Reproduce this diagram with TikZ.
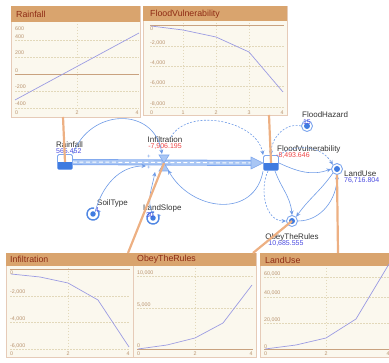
\documentclass[tikz,border=0pt]{standalone}
\usepackage{fontspec}
\setmainfont{Liberation Sans}
\usetikzlibrary{arrows.meta}

\definecolor{panelrim}{HTML}{E6CBB8}
\definecolor{panelbg}{HTML}{FBF8EE}
\definecolor{panelhd}{HTML}{D9A46E}
\definecolor{titlered}{HTML}{8E2B14}
\definecolor{tickbrown}{HTML}{B8926E}
\definecolor{gridcol}{HTML}{E2D8BA}
\definecolor{zerocol}{HTML}{C9A27F}
\definecolor{plotcol}{HTML}{9C9CE3}
\definecolor{tancol}{HTML}{EDB083}
\definecolor{linkblue}{HTML}{6F9BE6}
\definecolor{stockrim}{HTML}{7EA7EE}
\definecolor{stockfill}{HTML}{3F7BE0}
\definecolor{pipefill}{HTML}{A9C6F4}
\definecolor{valred}{HTML}{EE4444}
\definecolor{valblue}{HTML}{4B4BE0}

\tikzset{
  panel/.style={draw=panelrim, fill=panelbg, line width=0.8pt},
  panelhead/.style={fill=panelhd},
  charttitle/.style={anchor=west, inner sep=0pt, text=titlered, font=\fontsize{8.8}{9}\selectfont},
  tick/.style={anchor=west, inner sep=0pt, text=tickbrown, font=\fontsize{5.3}{5.5}\selectfont},
  gridline/.style={draw=gridcol, line width=0.4pt, dash pattern=on 1.5pt off 1.5pt},
  zeroline/.style={draw=zerocol, line width=0.8pt},
  plotline/.style={draw=plotcol, line width=0.7pt},
  tanlink/.style={draw=tancol, line width=2.2pt},
  link/.style={draw=linkblue, line width=0.6pt, -{Stealth[length=4.5pt,width=4pt]}},
  dlink/.style={link, dash pattern=on 2pt off 1.5pt},
  varname/.style={inner sep=0pt, text=black!80, font=\fontsize{8}{8}\selectfont},
  redval/.style={inner sep=0pt, text=valred, font=\fontsize{7}{7}\selectfont},
  blueval/.style={inner sep=0pt, text=valblue, font=\fontsize{7}{7}\selectfont},
  plusmark/.style={inner sep=0pt, text=linkblue, font=\fontsize{6}{6}\selectfont},
  stock/.style={draw=stockrim, fill=white, line width=0.9pt, rounded corners=1.5pt,
    minimum width=15pt, minimum height=15pt, inner sep=0pt},
  varnode/.style={circle, draw=stockrim, fill=white, line width=0.9pt, minimum size=11pt, inner sep=0pt},
  convnode/.style={circle, fill=stockfill, minimum size=5.5pt, inner sep=0pt},
  convring/.style={draw=stockfill!90!white, line width=1.4pt, -{Stealth[length=3pt,width=3.8pt]}},
}

\begin{document}
\begin{tikzpicture}[x=1pt, y=1pt]
\useasboundingbox (0,0) rectangle (389,-363);

% Rainfall chart
\draw[panel] (11,-6) rectangle (140,-117);
\fill[panelhead] (11.4,-6.4) rectangle (139.6,-22);
\draw[gridline] (77,-24) -- (77,-108)
  (15,-40) -- (139,-40) (15,-57) -- (139,-57) (15,-91) -- (139,-91) (15,-108) -- (139,-108);
\draw[zeroline] (15,-74) -- (139,-74);
\draw[plotline] (15,-100) -- (139,-33);
\path node[charttitle] (raintitle) at (16,-14) {Rainfall}
  node[tick] (ra1) at (15,-29) {600}
  node[tick] (ra2) at (15,-37) {400}
  node[tick] (ra3) at (15,-53) {200}
  node[tick] (ra4) at (15,-71) {0}
  node[tick] (ra5) at (15,-87) {-200}
  node[tick] (ra6) at (15,-104) {-400}
  node[tick] (rb1) at (15,-113) {0}
  node[tick, anchor=center] (rb2) at (77,-113) {2}
  node[tick, anchor=center] (rb3) at (137,-113) {4};
\coordinate (rainfoot) at (63,-117);

% FloodVulnerability chart
\draw[panel] (143,-6) rectangle (287,-115);
\fill[panelhead] (143.4,-6.4) rectangle (286.6,-21);
\draw[gridline] (183,-23) -- (183,-107) (216,-23) -- (216,-107) (249,-23) -- (249,-107)
  (150,-46) -- (284,-46) (150,-66) -- (284,-66) (150,-86) -- (284,-86) (150,-107) -- (284,-107);
\draw[zeroline] (150,-25) -- (284,-25);
\draw[plotline] (151,-26) -- (183,-30) -- (216,-37) -- (249,-52) -- (283,-92);
\path node[charttitle] (fvtitle) at (150,-14) {FloodVulnerability}
  node[tick] (fa1) at (150,-28.5) {0}
  node[tick] (fa2) at (150,-43) {-2,000}
  node[tick] (fa3) at (150,-63) {-4,000}
  node[tick] (fa4) at (150,-83) {-6,000}
  node[tick] (fa5) at (150,-104) {-8,000}
  node[tick] (fb1) at (150,-113) {0}
  node[tick, anchor=center] (fb2) at (183,-113) {1}
  node[tick, anchor=center] (fb3) at (216,-113) {2}
  node[tick, anchor=center] (fb4) at (249,-113) {3}
  node[tick, anchor=center] (fb5) at (282,-113) {4};
\coordinate (fvfoot) at (269,-115);

% Infiltration chart
\draw[panel] (6,-253) rectangle (133,-357);
\fill[panelhead] (6.4,-253.4) rectangle (132.6,-266);
\draw[gridline] (68,-268) -- (68,-350)
  (10,-296) -- (130,-296) (10,-322) -- (130,-322) (10,-349) -- (130,-349);
\draw[zeroline] (10,-269) -- (130,-269);
\draw[plotline] (11,-274) -- (40,-277) -- (68,-283) -- (98,-300) -- (129,-347);
\path node[charttitle] (inftitle) at (10,-259.5) {Infiltration}
  node[tick] (ia1) at (10,-273) {0}
  node[tick] (ia2) at (10,-292) {-2,000}
  node[tick] (ia3) at (10,-319) {-4,000}
  node[tick] (ia4) at (10,-346) {-6,000}
  node[tick] (ib1) at (10,-354) {0}
  node[tick, anchor=center] (ib2) at (68,-354) {2}
  node[tick, anchor=center] (ib3) at (128,-354) {4};
\coordinate (inffoot) at (128,-253);

% ObeyTheRules chart
\draw[panel] (133,-253) rectangle (256,-357);
\fill[panelhead] (133.4,-253.4) rectangle (255.6,-266);
\draw[gridline] (195,-268) -- (195,-350) (137,-276) -- (253,-276) (137,-308) -- (253,-308);
\draw[zeroline] (137,-349) -- (253,-349);
\draw[plotline] (138,-349) -- (167,-345) -- (195,-338) -- (223,-323) -- (252,-285);
\path node[charttitle] (obeytitle) at (137,-259.5) {ObeyTheRules}
  node[tick] (oa1) at (137,-273) {10,000}
  node[tick] (oa2) at (137,-305) {5,000}
  node[tick] (oa3) at (137,-346) {0}
  node[tick] (ob1) at (137,-354) {0}
  node[tick, anchor=center] (ob2) at (195,-354) {2}
  node[tick, anchor=center] (ob3) at (251,-354) {4};
\coordinate (obeyfoot) at (253,-253);

% LandUse chart
\draw[panel] (260,-253) rectangle (396,-357);
\fill[panelhead] (260.4,-253.4) rectangle (395.6,-266);
\draw[gridline] (326,-268) -- (326,-350)
  (264,-277) -- (389,-277) (264,-297) -- (389,-297) (264,-323) -- (389,-323);
\draw[zeroline] (264,-349) -- (389,-349);
\draw[plotline] (265,-349) -- (296,-345) -- (326,-338) -- (356,-319) -- (389,-264);
\path node[charttitle] (landtitle) at (265,-260) {LandUse}
  node[tick] (la1) at (264,-274) {60,000}
  node[tick] (la2) at (264,-293) {40,000}
  node[tick] (la3) at (264,-320) {20,000}
  node[tick] (la4) at (264,-347) {0}
  node[tick] (lb1) at (264,-354) {0}
  node[tick, anchor=center] (lb2) at (326,-354) {2}
  node[tick, anchor=center] (lb3) at (388,-354) {4};
\coordinate (landfoot) at (338,-253);

% Stocks and flow
\node[stock] (rainstock) at (65,-162) {};
\node[stock] (fvstock) at (271,-163) {};
\fill[stockfill] ([shift={(1,0)}]rainstock.west) rectangle ([shift={(-1,1)}]rainstock.south east);
\fill[stockfill] ([shift={(1,0)}]fvstock.west) rectangle ([shift={(-1,1)}]fvstock.south east);
\coordinate (valve) at (164,-163);
\coordinate (pipetip) at (251,-163);
\draw[draw=stockrim, line width=6pt] (rainstock.east) -- (pipetip);
\draw[draw=pipefill, line width=4.4pt] (rainstock.east) -- (pipetip);
\draw[white, line width=1pt, dash pattern=on 4pt off 2.5pt] (rainstock.east) -- (pipetip);
\filldraw[fill=pipefill, draw=stockrim, line width=0.6pt]
  ([yshift=6pt]pipetip) -- (fvstock.west) -- ([yshift=-6pt]pipetip) -- cycle;
\filldraw[fill=pipefill, draw=stockrim, line width=0.6pt]
  ([shift={(-5,8)}]valve) -- ([shift={(5,8)}]valve) -- (valve) -- cycle
  ([shift={(-5,-8)}]valve) -- ([shift={(5,-8)}]valve) -- (valve) -- cycle;
\node[plusmark] (plusa) at (149,-157) {+};
\node[plusmark] (plusb) at (149,-168) {+};

% Variables
\node[varnode] (hazard) at (307,-126) {};
\node[varnode] (landuse) at (337,-169) {};
\node[varnode] (obey) at (292,-221) {};
\fill[stockfill] (hazard) circle (3);
\fill[stockfill] (landuse) circle (3);
\fill[stockfill] (obey) circle (3);
\node[convnode] (soil) at (93,-214) {};
\node[convnode] (slope) at (153,-218) {};
\draw[convring] ([shift={(80:6)}]soil) arc[start angle=80, end angle=400, radius=6];
\draw[convring] ([shift={(80:6)}]slope) arc[start angle=80, end angle=400, radius=6];

% Names and values
\node[varname, anchor=west] (rainname) at (56,-145) {Rainfall};
\node[blueval, anchor=west] (rainval) at (56,-151.5) {565.452};
\node[varname] (infname) at (165,-140) {Infiltration};
\node[redval] (infval) at (165,-147) {-7,906.195};
\node[varname, anchor=west] (fvname) at (277,-149) {FloodVulnerability};
\node[redval, anchor=west] (fvval) at (276,-156) {-8,493.646};
\node[varname, anchor=west] (hazname) at (302,-115) {FloodHazard};
\node[blueval] (hazval) at (307,-122) {15};
\node[varname, anchor=west] (landname) at (344,-174) {LandUse};
\node[blueval, anchor=west] (landval) at (344,-181) {76,716.804};
\node[varname] (obeyname) at (292,-237) {ObeyTheRules};
\node[blueval] (obeyval) at (286,-243.5) {10,685.555};
\node[varname, anchor=west] (soilname) at (97,-203) {SoilType};
\node[blueval] (soilval) at (97,-210) {4};
\node[varname, anchor=west] (slopename) at (143,-208) {LandSlope};
\node[blueval] (slopeval) at (150,-215) {30};

% Links
\coordinate (valvetop) at (162,-154);
\coordinate (valveleft) at (146,-166);
\coordinate (valvelow) at (155,-172);
\coordinate (valveright) at (168,-170);
\draw[link] (rainstock.north east) to[out=70, in=100, looseness=1.4] (valvetop);
\draw[link] (soil.north east) to[out=75, in=180] (valveleft);
\draw[link] (slope.north) to[out=115, in=-100] (valvelow);
\draw[link] (fvstock.south west) to[out=-100, in=-60, looseness=1.3] (valveright);
\draw[dlink] ([xshift=6pt]infname.north) to[out=60, in=100, looseness=0.95] (fvstock.north west);
\draw[dlink] (hazard.west) to[out=165, in=90] (fvstock.north);
\draw[dlink] (fvstock.north east) to[out=35, in=120] (landuse.north west);
\draw[link] (fvstock.east) to[out=-25, in=200] (landuse.west);
\draw[link] ([xshift=4pt]fvstock.south) to[out=-70, in=95] (obey.north);
\draw[dlink] ([xshift=-3pt]fvstock.south) to[out=-115, in=180] (obey.west);
\draw[link] (landuse.south west) to[out=235, in=55] (obey.north east);
\draw[link] (obey.east) to[out=0, in=-90] (landuse.south);

% Chart pointers
\draw[tanlink] (rainfoot) -- (rainstock.center);
\draw[tanlink] (fvfoot) -- (fvstock.center);
\draw[tanlink] (inffoot) -- (valve);
\draw[tanlink] (obeyfoot) -- (obey.center);
\draw[tanlink] (landfoot) -- (landuse.south);
\end{tikzpicture}
\end{document}
